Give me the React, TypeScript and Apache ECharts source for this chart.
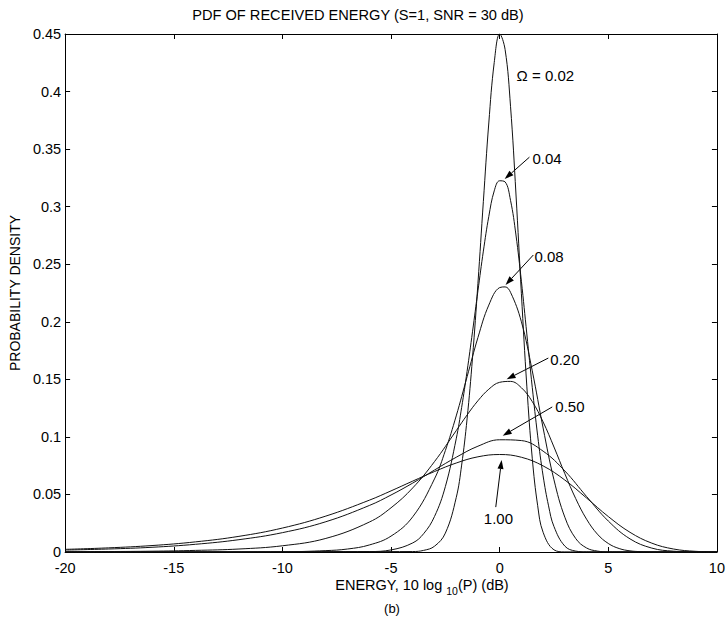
import React, { useEffect, useRef } from 'react';
import * as echarts from 'echarts';

const TITLE = 'PDF OF RECEIVED ENERGY (S=1, SNR = 30 dB)';
const X_NAME_PARTS = ['ENERGY, 10 log ', '10', '(P) (dB)'];
const Y_NAME = 'PROBABILITY DENSITY';
const CAPTION = '(b)';

const X_MIN = -20;
const X_MAX = 10;
const X_STEP = 5;
const Y_MIN = 0;
const Y_MAX = 0.45;
const Y_STEP = 0.05;

// Omega = 0.02
const X_002 = [-20, -4, -3.5, -3, -2.5, -2, -1.75, -1.5, -1.25, -1, -0.75, -0.5, -0.25, 0, 0.25, 0.5, 0.75, 1, 1.25, 1.5, 1.75, 2, 2.5, 3, 10];
const Y_002 = [0, 0.0004, 0.0014, 0.005, 0.0164, 0.0472, 0.0755, 0.1156, 0.1687, 0.2334, 0.3046, 0.3727, 0.4252, 0.45, 0.4365, 0.3872, 0.311, 0.2244, 0.1441, 0.0815, 0.0402, 0.0171, 0.0019, 0.0001, 0];
// Omega = 0.04
const X_004 = [-20, -6, -5, -4, -3.5, -3, -2.5, -2, -1.75, -1.5, -1.25, -1, -0.75, -0.5, -0.25, 0, 0.25, 0.5, 0.75, 1, 1.25, 1.5, 1.75, 2, 2.25, 2.5, 3, 3.5, 4, 10];
const Y_004 = [0, 0.0004, 0.0018, 0.0079, 0.0159, 0.0308, 0.0568, 0.0983, 0.1256, 0.1569, 0.1913, 0.2269, 0.2614, 0.2915, 0.3137, 0.3225, 0.3215, 0.3055, 0.2754, 0.2352, 0.1894, 0.1431, 0.1009, 0.0661, 0.0401, 0.0221, 0.0051, 0.0008, 0.0001, 0];
// Omega = 0.08
const X_008 = [-20, -10, -8, -7, -6, -5, -4, -3, -2.5, -2, -1.5, -1, -0.5, 0, 0.25, 0.5, 1, 1.5, 2, 2.5, 3, 3.5, 4, 4.5, 5, 10];
const Y_008 = [0, 0.0002, 0.0012, 0.0026, 0.0061, 0.0138, 0.0306, 0.0635, 0.0881, 0.1182, 0.1522, 0.1863, 0.2145, 0.2297, 0.2303, 0.2256, 0.2, 0.1574, 0.1077, 0.0627, 0.0302, 0.0117, 0.0035, 0.0008, 0.0001, 0];
// Omega = 0.20
const X_020 = [-20, -18, -16, -14, -12, -10, -8, -6, -5, -4, -3, -2, -1.5, -1, -0.5, 0, 0.5, 1, 1.5, 2, 2.5, 3, 3.5, 4, 4.5, 5, 5.5, 6, 6.5, 7, 10];
const Y_020 = [0.0002, 0.0004, 0.0007, 0.0014, 0.0026, 0.0054, 0.0118, 0.026, 0.0384, 0.0557, 0.0785, 0.1054, 0.119, 0.1314, 0.1414, 0.1474, 0.1482, 0.1427, 0.1307, 0.113, 0.0912, 0.068, 0.0464, 0.0285, 0.0155, 0.0074, 0.003, 0.001, 0.0003, 0.0001, 0];
// Omega = 0.50
const X_050 = [-20, -18, -16, -14, -12, -10, -8, -6, -5, -4, -3, -2, -1, 0, 1, 2, 3, 4, 5, 6, 7, 8, 9, 10];
const Y_050 = [0.0017, 0.0026, 0.0041, 0.0067, 0.0107, 0.0168, 0.0263, 0.0404, 0.0495, 0.0599, 0.0712, 0.0823, 0.0919, 0.0975, 0.0968, 0.0876, 0.0704, 0.0482, 0.0269, 0.0114, 0.0034, 0.0007, 0.0001, 0];
// Omega = 1.00
const X_100 = [-20, -18, -16, -14, -12, -10, -8, -6, -5, -4, -3, -2, -1, 0, 1, 2, 3, 4, 5, 6, 7, 8, 9, 10];
const Y_100 = [0.0023, 0.0036, 0.0056, 0.0088, 0.0136, 0.0208, 0.0312, 0.045, 0.0531, 0.0616, 0.0699, 0.0773, 0.0827, 0.0847, 0.0823, 0.0748, 0.0625, 0.0469, 0.0308, 0.0171, 0.0077, 0.0026, 0.0006, 0.0001];

const SERIES_X = [X_002, X_004, X_008, X_020, X_050, X_100];
const SERIES_Y = [Y_002, Y_004, Y_008, Y_020, Y_050, Y_100];
const SERIES_NAMES = ['0.02', '0.04', '0.08', '0.20', '0.50', '1.00'];

// Annotation texts (left edge / vertical centre, in data units)
const LABEL_TEXT = ['\u03A9 = 0.02', '0.04', '0.08', '0.20', '0.50', '1.00'];
const LABEL_X = [0.78, 1.51, 1.6, 2.33, 2.56, -0.73];
const LABEL_Y = [0.414, 0.342, 0.257, 0.167, 0.126, 0.029];
// Arrows (tail -> head, data units)
const ARROW_FROM_X = [1.37, 1.55, 2.24, 2.42, -0.18];
const ARROW_FROM_Y = [0.343, 0.258, 0.1685, 0.126, 0.039];
const ARROW_TO_X = [0.23, 0.27, 0.32, 0.14, 0.09];
const ARROW_TO_Y = [0.324, 0.232, 0.15, 0.101, 0.08];

const FONT = '"Liberation Sans", Arial, Helvetica, sans-serif';
const W = 728;
const H = 618;

function measure(text: string, size: number) {
  const c = document.createElement('canvas').getContext('2d');
  if (!c) return text.length * size * 0.55;
  c.font = `${size}px ${FONT}`;
  return c.measureText(text).width;
}

export default function App() {
  const ref = useRef<HTMLDivElement>(null);

  useEffect(() => {
    if (!ref.current) return;
    const chart = echarts.init(ref.current, null, { renderer: 'svg' });

    const axisCommon = {
      type: 'value' as const,
      axisLine: { show: true, onZero: false, lineStyle: { color: '#000', width: 1 } },
      axisTick: { show: true, inside: true, length: 5, lineStyle: { color: '#000', width: 1 } },
      splitLine: { show: false },
    };
    const labelStyle = { color: '#000', fontSize: 14.5, fontFamily: FONT };
    const fmtY = (v: number) => String(Number(v.toFixed(2)));

    chart.setOption({
      animation: false,
      backgroundColor: '#fff',
      grid: { left: 63, right: 8, top: 34, bottom: 66, containLabel: false },
      xAxis: [
        { ...axisCommon, min: X_MIN, max: X_MAX, interval: X_STEP, position: 'bottom',
          axisLabel: { ...labelStyle, margin: 8 } },
        { ...axisCommon, min: X_MIN, max: X_MAX, interval: X_STEP, position: 'top',
          axisLabel: { show: false } },
      ],
      yAxis: [
        { ...axisCommon, min: Y_MIN, max: Y_MAX, interval: Y_STEP, position: 'left',
          axisLabel: { ...labelStyle, margin: 4, formatter: fmtY },
          name: Y_NAME, nameLocation: 'middle', nameGap: 40, nameRotate: 90,
          nameTextStyle: { color: '#000', fontSize: 14, fontFamily: FONT } },
        { ...axisCommon, min: Y_MIN, max: Y_MAX, interval: Y_STEP, position: 'right',
          axisLabel: { show: false } },
      ],
      series: SERIES_X.map((xs, k) => ({
        type: 'line',
        name: SERIES_NAMES[k],
        xAxisIndex: 0,
        yAxisIndex: 0,
        data: xs.map((x, i) => [x, SERIES_Y[k][i]]),
        showSymbol: false,
        smooth: 0.4,
        lineStyle: { color: '#111', width: 1 },
        silent: true,
        z: 3,
      })),
    });

    const toPx = (x: number, y: number) => chart.convertToPixel({ gridIndex: 0 }, [x, y]) as number[];

    const graphics: any[] = [];
    graphics.push({
      type: 'text', silent: true, x: 358, y: 15,
      style: { text: TITLE, fill: '#000', fontSize: 14.6, fontFamily: FONT, align: 'center', verticalAlign: 'middle' },
    });

    // x-axis name with subscript
    const fs = 14.5;
    const fsSub = 10.5;
    const w0 = measure(X_NAME_PARTS[0], fs);
    const w1 = measure(X_NAME_PARTS[1], fsSub);
    const w2 = measure(X_NAME_PARTS[2], fs);
    const nameCx = 422;
    let sx = nameCx - (w0 + w1 + w2) / 2;
    const nameY = 585;
    graphics.push({ type: 'text', silent: true, x: sx, y: nameY,
      style: { text: X_NAME_PARTS[0], fill: '#000', fontSize: fs, fontFamily: FONT, align: 'left', verticalAlign: 'middle' } });
    sx += w0;
    graphics.push({ type: 'text', silent: true, x: sx, y: nameY + 6,
      style: { text: X_NAME_PARTS[1], fill: '#000', fontSize: fsSub, fontFamily: FONT, align: 'left', verticalAlign: 'middle' } });
    sx += w1;
    graphics.push({ type: 'text', silent: true, x: sx, y: nameY,
      style: { text: X_NAME_PARTS[2], fill: '#000', fontSize: fs, fontFamily: FONT, align: 'left', verticalAlign: 'middle' } });

    graphics.push({ type: 'text', silent: true, x: 392, y: 608,
      style: { text: CAPTION, fill: '#000', fontSize: 13, fontFamily: FONT, align: 'center', verticalAlign: 'middle' } });

    LABEL_TEXT.forEach((t, i) => {
      const p = toPx(LABEL_X[i], LABEL_Y[i]);
      graphics.push({ type: 'text', silent: true, x: p[0], y: p[1],
        style: { text: t, fill: '#000', fontSize: 15, fontFamily: FONT, align: 'left', verticalAlign: 'middle' } });
    });

    ARROW_FROM_X.forEach((_, i) => {
      const a = toPx(ARROW_FROM_X[i], ARROW_FROM_Y[i]);
      const b = toPx(ARROW_TO_X[i], ARROW_TO_Y[i]);
      const dx = b[0] - a[0];
      const dy = b[1] - a[1];
      const len = Math.hypot(dx, dy) || 1;
      const ux = dx / len;
      const uy = dy / len;
      const hl = 9;
      const hw = 3;
      const bx = b[0] - ux * hl;
      const by = b[1] - uy * hl;
      graphics.push({ type: 'line', silent: true,
        shape: { x1: a[0], y1: a[1], x2: bx, y2: by },
        style: { stroke: '#000', lineWidth: 1 } });
      graphics.push({ type: 'polygon', silent: true,
        shape: { points: [[b[0], b[1]], [bx - uy * hw, by + ux * hw], [bx + uy * hw, by - ux * hw]] },
        style: { fill: '#000' } });
    });

    chart.setOption({ graphic: graphics });

    return () => chart.dispose();
  }, []);

  return (
    <div
      ref={ref}
      style={{ position: 'absolute', left: 0, top: 0, width: W, height: H, background: '#fff' }}
    />
  );
}
